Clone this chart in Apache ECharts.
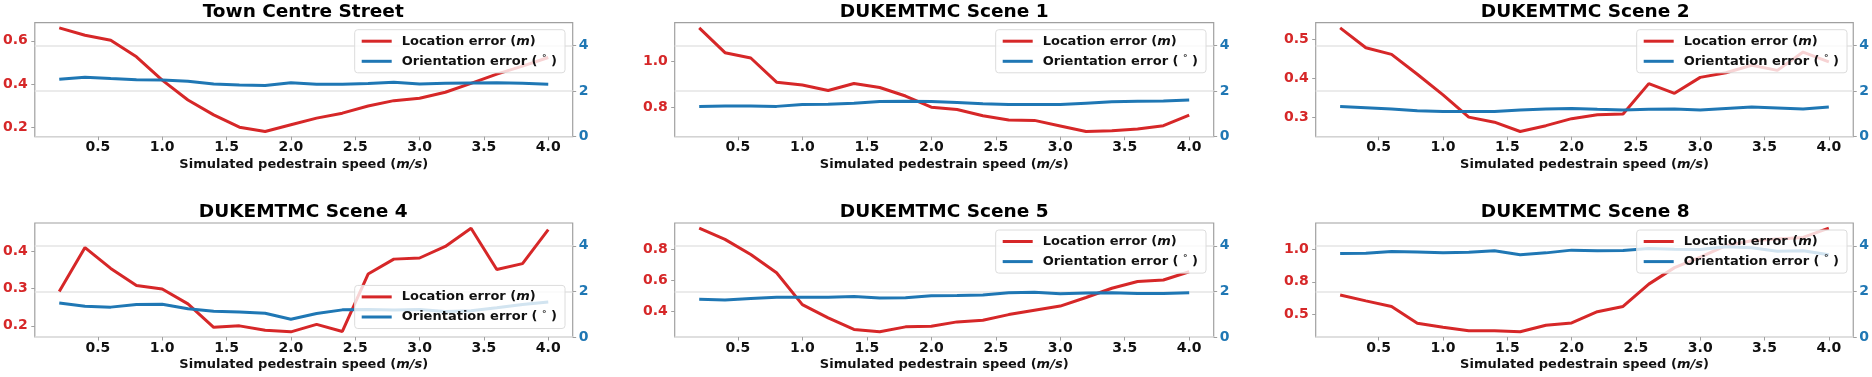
<!DOCTYPE html>
<html>
<head>
<meta charset="utf-8">
<script src="https://cdn.jsdelivr.net/npm/echarts@6.0.0/dist/echarts.min.js"></script>
<style>
html, body { margin: 0; background: #fff; }
#chart { width: 1872px; height: 377px; }
</style>
</head>
<body>
<div id="chart"></div>
<script>
// x values (simulated pedestrian speed, m/s)
const speeds = [0.2, 0.4, 0.6, 0.8, 1.0, 1.2, 1.4, 1.6, 1.8, 2.0, 2.2, 2.4, 2.6, 2.8, 3.0, 3.2, 3.4, 3.6, 3.8, 4.0];
const xTicks = [0.5, 1.0, 1.5, 2.0, 2.5, 3.0, 3.5, 4.0];

const titles = ['Town Centre Street', 'DUKEMTMC Scene 1', 'DUKEMTMC Scene 2',
                'DUKEMTMC Scene 4', 'DUKEMTMC Scene 5', 'DUKEMTMC Scene 8'];

// location error (m), left axis
const locTown   = [0.660, 0.626, 0.603, 0.526, 0.418, 0.326, 0.257, 0.200, 0.180, 0.211, 0.242, 0.265, 0.298, 0.323, 0.334, 0.362, 0.403, 0.446, 0.483, 0.523];
const locScene1 = [1.143, 1.036, 1.013, 0.909, 0.897, 0.873, 0.903, 0.886, 0.849, 0.801, 0.791, 0.764, 0.746, 0.744, 0.720, 0.696, 0.699, 0.707, 0.721, 0.767];
const locScene2 = [0.530, 0.479, 0.462, 0.411, 0.358, 0.301, 0.288, 0.264, 0.279, 0.297, 0.307, 0.309, 0.387, 0.362, 0.403, 0.415, 0.434, 0.421, 0.468, 0.443];
const locScene4 = [0.292, 0.410, 0.354, 0.308, 0.299, 0.259, 0.196, 0.200, 0.188, 0.184, 0.204, 0.185, 0.339, 0.379, 0.382, 0.413, 0.462, 0.351, 0.367, 0.458];
const locScene5 = [0.938, 0.866, 0.768, 0.651, 0.445, 0.360, 0.285, 0.270, 0.302, 0.306, 0.334, 0.345, 0.381, 0.409, 0.436, 0.491, 0.551, 0.594, 0.604, 0.657];
const locScene8 = [0.648, 0.602, 0.559, 0.429, 0.398, 0.370, 0.370, 0.362, 0.413, 0.431, 0.518, 0.559, 0.732, 0.860, 0.941, 1.031, 1.069, 1.082, 1.094, 1.166];

// orientation error (degrees), right axis
const oriTown   = [2.52, 2.61, 2.55, 2.50, 2.49, 2.43, 2.31, 2.27, 2.25, 2.37, 2.30, 2.30, 2.33, 2.39, 2.31, 2.34, 2.36, 2.37, 2.34, 2.30];
const oriScene1 = [1.33, 1.35, 1.35, 1.33, 1.41, 1.42, 1.47, 1.54, 1.56, 1.54, 1.50, 1.44, 1.41, 1.41, 1.41, 1.47, 1.53, 1.56, 1.57, 1.61];
const oriScene2 = [1.32, 1.27, 1.21, 1.14, 1.11, 1.10, 1.11, 1.17, 1.21, 1.24, 1.20, 1.17, 1.20, 1.21, 1.17, 1.24, 1.30, 1.26, 1.21, 1.30];
const oriScene4 = [1.49, 1.35, 1.31, 1.43, 1.44, 1.24, 1.13, 1.10, 1.04, 0.78, 1.03, 1.19, 1.21, 1.18, 1.21, 1.12, 1.15, 1.28, 1.43, 1.54];
const oriScene5 = [1.66, 1.62, 1.69, 1.74, 1.74, 1.74, 1.78, 1.71, 1.72, 1.81, 1.82, 1.84, 1.94, 1.96, 1.90, 1.93, 1.94, 1.91, 1.91, 1.94];
const oriScene8 = [3.66, 3.67, 3.75, 3.73, 3.69, 3.72, 3.78, 3.61, 3.69, 3.81, 3.78, 3.79, 3.88, 3.85, 3.84, 3.96, 3.91, 3.76, 3.78, 3.61];

const leftTicks = [[0.2, 0.4, 0.6], [0.8, 1.0], [0.3, 0.4, 0.5], [0.2, 0.3, 0.4], [0.4, 0.6, 0.8], [0.5, 0.75, 1.0]];
const rightTicks = [0, 2, 4];

const locData = [locTown, locScene1, locScene2, locScene4, locScene5, locScene8];
const oriData = [oriTown, oriScene1, oriScene2, oriScene4, oriScene5, oriScene8];

const RED = '#d62728', BLUE = '#1f77b4', SPINE = '#a0a0a0';
const FONT = 'DejaVu Sans';
const LOC = 'Location error (m)', ORI = 'Orientation error (°)';

// layout of the 2x3 panels
const gridLeft = [33.7, 674.7, 1315.7], gridTop = [22.7, 223];
const gridW = 539, gridH = 114;
const legendAtBottom = [false, false, false, true, false, false];

const txt = { fontFamily: FONT, fontWeight: 'bold', fontSize: 13, color: '#111' };
const tickTxt = { fontFamily: FONT, fontWeight: 'bold', fontSize: 14, color: '#111' };

let grids = [], xAxes = [], yAxes = [], series = [], titleList = [], legends = [];

for (let i = 0; i < 6; i++) {
    let gl = gridLeft[i % 3], gt = gridTop[Math.floor(i / 3)];
    grids.push({ left: gl, top: gt, width: gridW, height: gridH, show: true,
        borderColor: SPINE, borderWidth: 1.2, backgroundColor: 'transparent' });

    titleList.push({
        text: titles[i], left: gl + gridW / 2, textAlign: 'center', top: gt - 20, padding: 0,
        textStyle: { fontFamily: FONT, fontWeight: 'bold', fontSize: 18.5, color: '#000' }
    });

    xAxes.push({
        type: 'value', gridIndex: i, min: 0.01, max: 4.19,
        axisLine: { show: false },
        axisTick: { show: true, customValues: xTicks, length: 3.5, lineStyle: { color: SPINE } },
        axisLabel: Object.assign({ customValues: xTicks, margin: 4, formatter: v => v.toFixed(1) }, tickTxt),
        splitLine: { show: false },
        name: '{a|Simulated pedestrain speed (}{i|m/s}{a|)}',
        nameLocation: 'middle', nameGap: 21,
        nameTextStyle: { rich: { a: txt, i: Object.assign({}, txt, { fontStyle: 'italic' }) } }
    });

    yAxes.push({
        type: 'value', gridIndex: i, position: 'left',
        min: v => v.min - 0.05 * (v.max - v.min),
        max: v => v.max + 0.05 * (v.max - v.min),
        axisLine: { show: false },
        axisTick: { show: true, customValues: leftTicks[i], length: 3.5, lineStyle: { color: SPINE } },
        axisLabel: Object.assign({}, tickTxt, { customValues: leftTicks[i], color: RED, margin: 7, formatter: v => v.toFixed(1) }),
        splitLine: { show: false }
    });
    yAxes.push({
        type: 'value', gridIndex: i, position: 'right', min: 0, max: 5, interval: 2,
        axisLine: { show: false },
        axisTick: { show: true, customValues: rightTicks, length: 3.5, lineStyle: { color: SPINE } },
        axisLabel: Object.assign({}, tickTxt, { customValues: rightTicks, color: BLUE, margin: 6 }),
        splitLine: { show: true, lineStyle: { color: '#e4e4e4', width: 1.5 } }
    });

    series.push({
        type: 'line', name: LOC, xAxisIndex: i, yAxisIndex: 2 * i, symbol: 'none', z: 2,
        data: speeds.map((x, k) => [x, locData[i][k]]),
        lineStyle: { color: RED, width: 3 }, itemStyle: { color: RED }
    });
    series.push({
        type: 'line', name: ORI, xAxisIndex: i, yAxisIndex: 2 * i + 1, symbol: 'none', z: 3,
        data: speeds.map((x, k) => [x, oriData[i][k]]),
        lineStyle: { color: BLUE, width: 3 }, itemStyle: { color: BLUE }
    });

    let lg = {
        data: [LOC, ORI], orient: 'vertical', right: 1872 - (gl + gridW - 7.7),
        icon: 'rect', itemWidth: 30, itemHeight: 3, itemGap: 6.6, padding: [5, 8, 5, 7],
        backgroundColor: 'rgba(255,255,255,0.8)', borderColor: '#dcdcdc', borderWidth: 1, borderRadius: 3,
        formatter: n => n === LOC ? '{p|Location error (}{i|m}{a|)}' : '{p|Orientation error ( }{s|°}{a| )}',
        textStyle: { rich: {
            p: Object.assign({}, txt, { padding: [0, 0, 0, 5], lineHeight: 14 }),
            a: Object.assign({}, txt, { lineHeight: 14 }),
            i: Object.assign({}, txt, { fontStyle: 'italic', lineHeight: 14 }),
            s: Object.assign({}, txt, { fontSize: 9, verticalAlign: 'top', lineHeight: 14 })
        } }
    };
    if (legendAtBottom[i]) lg.top = gt + gridH - 7 - 44.6; else lg.top = gt + 7;
    legends.push(lg);
}

let chart = echarts.init(document.getElementById('chart'));
chart.setOption({
    animation: false,
    title: titleList,
    legend: legends,
    grid: grids,
    xAxis: xAxes,
    yAxis: yAxes,
    series: series
});
</script>
</body>
</html>
